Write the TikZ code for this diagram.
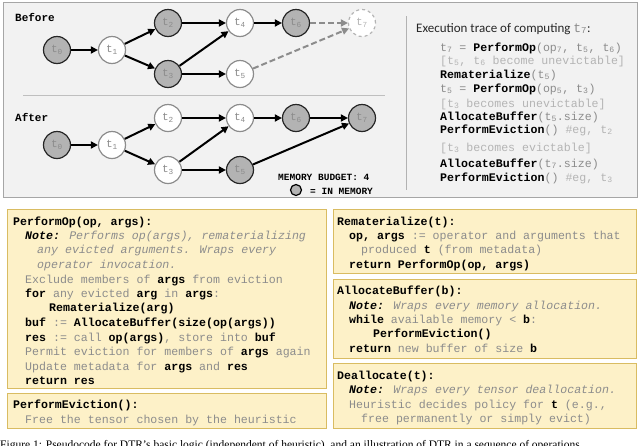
\documentclass[tikz,border=0pt]{standalone}
\usepackage{fontspec}
\setmainfont{Liberation Serif}
\newfontfamily\mono{Liberation Mono}
\newfontfamily\carl{Carlito}
\usetikzlibrary{arrows.meta}
\definecolor{gtx}{HTML}{8C8C8C}
\definecolor{ltx}{HTML}{B4B4B4}
\definecolor{yfill}{HTML}{FDF1C8}
\definecolor{ydraw}{HTML}{D9BC62}
\definecolor{memfill}{HTML}{B3B3B3}
\newcommand\kw[1]{\textcolor{black}{\bfseries #1}}
\newcommand\sbs[1]{\textsubscript{#1}}
\tikzset{
  tn/.style={circle,minimum size=27pt,inner sep=0pt,line width=1.2pt,font=\mono\fontsize{11}{11}\selectfont,text=gtx},
  mem/.style={tn,fill=memfill,draw=black!85},
  free/.style={tn,fill=white,draw=gtx},
  ghost/.style={tn,fill=white,draw=ltx,dashed,text=ltx},
  ed/.style={line width=2pt,-{Triangle[length=7pt,width=7pt]}},
  ded/.style={ed,draw=gtx,dashed,dash pattern=on 6pt off 3pt},
  ln/.style={anchor=base west,inner sep=0pt,font=\mono\fontsize{11.6}{12}\selectfont,text=gtx},
  box/.style={fill=yfill,draw=ydraw,line width=1pt}
}
\begin{document}
\begin{tikzpicture}[x=1pt,y=-1pt]
\useasboundingbox (0,0) rectangle (640,445);
% top panel
\draw[fill=black!5,draw=black!35,line width=1pt] (3,2) rectangle (637,197);
\draw[black!25,line width=1pt] (23,95) -- (385,95);
\draw[black!30,line width=1pt] (406,16) -- (406,190);
\node[ln,text=black,font=\mono\bfseries\fontsize{11}{11}\selectfont] (lb) at (15,21) {Before};
\node[ln,text=black,font=\mono\bfseries\fontsize{11}{11}\selectfont] (la) at (15,121) {After};
% before
\node[mem] (a0) at (57,50) {t\sbs{0}};
\node[free] (a1) at (112,50) {t\sbs{1}};
\node[mem] (a2) at (168,23) {t\sbs{2}};
\node[mem] (a3) at (168,74) {t\sbs{3}};
\node[free] (a4) at (240,23) {t\sbs{4}};
\node[free] (a5) at (240,74) {t\sbs{5}};
\node[mem] (a6) at (296,23) {t\sbs{6}};
\node[ghost] (a7) at (362,23) {t\sbs{7}};
\draw[ed] (a0)--(a1); \draw[ed] (a1)--(a2); \draw[ed] (a1)--(a3);
\draw[ed] (a2)--(a4); \draw[ed] (a3)--(a4); \draw[ed] (a3)--(a5);
\draw[ed] (a4)--(a6); \draw[ded] (a6)--(a7); \draw[ded] (a5)--(a7);
% after
\node[mem] (b0) at (57,145) {t\sbs{0}};
\node[free] (b1) at (112,145) {t\sbs{1}};
\node[free] (b2) at (168,118) {t\sbs{2}};
\node[free] (b3) at (168,170) {t\sbs{3}};
\node[free] (b4) at (240,118) {t\sbs{4}};
\node[mem] (b5) at (240,170) {t\sbs{5}};
\node[mem] (b6) at (296,118) {t\sbs{6}};
\node[mem] (b7) at (362,118) {t\sbs{7}};
\draw[ed] (b0)--(b1); \draw[ed] (b1)--(b2); \draw[ed] (b1)--(b3);
\draw[ed] (b2)--(b4); \draw[ed] (b3)--(b4); \draw[ed] (b3)--(b5);
\draw[ed] (b4)--(b6); \draw[ed] (b6)--(b7); \draw[ed] (b5)--(b7);
\node[ln,text=black,font=\mono\bfseries\fontsize{9.5}{10}\selectfont] (mb) at (278,180) {MEMORY BUDGET: 4};
\node[circle,fill=memfill,draw=black,line width=1.2pt,minimum size=11pt,inner sep=0pt] (lg) at (296,190) {};
\node[ln,text=black,font=\mono\bfseries\fontsize{9.5}{10}\selectfont] (lt) at (310,194) {= IN MEMORY};
% trace
\node[ln,text=black!85,font=\carl\fontsize{13}{13}\selectfont] (tr0) at (416,32) {Execution trace of computing \textcolor{gtx}{\mono t\sbs{7}}:};
\node[ln] (tr1) at (440,51) {t\sbs{7} = \kw{PerformOp}(op\sbs{7}, t\sbs{5}, t\sbs{6})};
\node[ln,text=ltx] (tr2) at (440,64) {[t\sbs{5}, t\sbs{6} become unevictable]};
\node[ln] (tr3) at (440,78) {\kw{Rematerialize}(t\sbs{5})};
\node[ln] (tr4) at (440,92) {t\sbs{5} = \kw{PerformOp}(op\sbs{5}, t\sbs{3})};
\node[ln,text=ltx] (tr5) at (440,107) {[t\sbs{3} becomes unevictable]};
\node[ln] (tr6) at (440,120) {\kw{AllocateBuffer}(t\sbs{5}.size)};
\node[ln] (tr7) at (440,133) {\kw{PerformEviction}() \textcolor{ltx}{\#eg, t\sbs{2}}};
\node[ln,text=ltx] (tr8) at (440,151) {[t\sbs{3} becomes evictable]};
\node[ln] (tr9) at (440,167) {\kw{AllocateBuffer}(t\sbs{7}.size)};
\node[ln] (tr10) at (440,181) {\kw{PerformEviction}() \textcolor{ltx}{\#eg, t\sbs{3}}};
% boxes
\draw[box] (7,209) rectangle (326,388);
\draw[box] (7,393) rectangle (326,428);
\draw[box] (333,209) rectangle (636,273);
\draw[box] (333,279) rectangle (636,358);
\draw[box] (333,363) rectangle (636,428);
% PerformOp
\node[ln] (p1) at (13,225) {\kw{PerformOp(op, args):}};
\node[ln] (p2) at (25,239) {\kw{\itshape Note:} \itshape Performs op(args), rematerializing};
\node[ln] (p3) at (37,253) {\itshape any evicted arguments. Wraps every};
\node[ln] (p4) at (37,268) {\itshape operator invocation.};
\node[ln] (p5) at (25,283) {Exclude members of \kw{args} from eviction};
\node[ln] (p6) at (25,297) {\kw{for} any evicted \kw{arg} in \kw{args}:};
\node[ln] (p7) at (49,311) {\kw{Rematerialize(arg)}};
\node[ln] (p8) at (25,326) {\kw{buf} := \kw{AllocateBuffer(size(op(args))}};
\node[ln] (p9) at (25,341) {\kw{res} := call \kw{op(args)}, store into \kw{buf}};
\node[ln] (p10) at (25,355) {Permit eviction for members of \kw{args} again};
\node[ln] (p11) at (25,370) {Update metadata for \kw{args} and \kw{res}};
\node[ln] (p12) at (25,384) {\kw{return res}};
% PerformEviction
\node[ln] (e1) at (13,408) {\kw{PerformEviction():}};
\node[ln] (e2) at (25,423) {Free the tensor chosen by the heuristic};
% Rematerialize
\node[ln] (r1) at (337,225) {\kw{Rematerialize(t):}};
\node[ln] (r2) at (349,239) {\kw{op, args} := operator and arguments that};
\node[ln] (r3) at (361,253) {produced \kw{t} (from metadata)};
\node[ln] (r4) at (349,268) {\kw{return PerformOp(op, args)}};
% AllocateBuffer
\node[ln] (c1) at (337,294) {\kw{AllocateBuffer(b):}};
\node[ln] (c2) at (349,309) {\kw{\itshape Note:} \itshape Wraps every memory allocation.};
\node[ln] (c3) at (349,323) {\kw{while} available memory < \kw{b}:};
\node[ln] (c4) at (373,337) {\kw{PerformEviction()}};
\node[ln] (c5) at (349,352) {\kw{return} new buffer of size \kw{b}};
% Deallocate
\node[ln] (d1) at (337,379) {\kw{Deallocate(t):}};
\node[ln] (d2) at (349,393) {\kw{\itshape Note:} \itshape Wraps every tensor deallocation.};
\node[ln] (d3) at (349,408) {Heuristic decides policy for \kw{t} (e.g.,};
\node[ln] (d4) at (361,422) {free permanently or simply evict)};
% caption (cut off)
\node[anchor=base west,inner sep=0pt,font=\fontsize{11.5}{12}\selectfont] (cap) at (0,448) {Figure 1: Pseudocode for DTR's basic logic (independent of heuristic), and an illustration of DTR in a sequence of operations.};
\end{tikzpicture}
\end{document}
